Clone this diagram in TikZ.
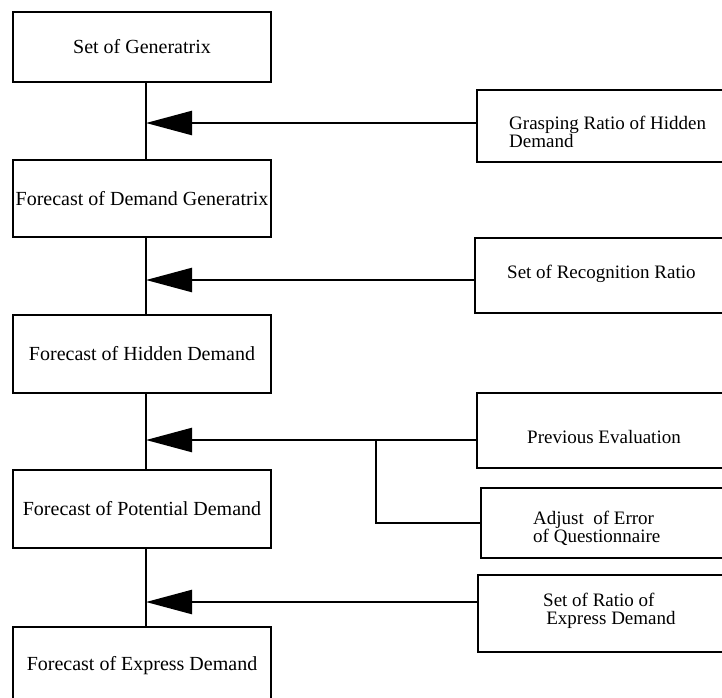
\documentclass[tikz,border=0pt]{standalone}
\usepackage{fontspec}
\setmainfont{Liberation Serif}
\usetikzlibrary{arrows.meta}
\begin{document}
\begin{tikzpicture}[x=1pt,y=-1pt,
  box/.style={draw, line width=2.8pt, rectangle, inner sep=0pt},
  leftbox/.style={box, minimum width=258pt, font=\fontsize{20}{22}\selectfont},
  rightbox/.style={box, minimum width=250pt},
  rtext/.style={anchor=west, align=left, inner sep=0pt, font=\fontsize{19}{18}\selectfont},
  link/.style={line width=2.4pt},
  feed/.style={link, -{Triangle[length=46pt,width=24pt]}}]
\useasboundingbox (0,0) rectangle (722,697);
\clip (0,0) rectangle (722,697);

% main chain of forecasts
\node[leftbox, minimum height=70pt] (gen)  at (142,47)    {Set of Generatrix};
\node[leftbox, minimum height=77pt] (dgen) at (142,198.5) {Forecast of Demand Generatrix};
\node[leftbox, minimum height=78pt] (hid)  at (142,354)   {Forecast of Hidden Demand};
\node[leftbox, minimum height=78pt] (pot)  at (142,509)   {Forecast of Potential Demand};
\node[leftbox, minimum height=78pt] (exp)  at (142,666)   {Forecast of Express Demand};

% inputs on the right
\node[rightbox, minimum height=72pt] (grasp) at (602,126)   {};
\node[rtext] (grasptxt) at (509,132) {Grasping Ratio of Hidden\\Demand};
\node[rightbox, minimum height=75pt] (recog) at (600,275.5) {};
\node[rtext] (recogtxt) at (507,274) {Set of Recognition Ratio};
\node[rightbox, minimum height=75pt] (prev)  at (602,430.5) {};
\node[rtext] (prevtxt) at (527,437) {Previous Evaluation};
\node[rightbox, minimum height=70pt] (adj)   at (606,523)   {};
\node[rtext] (adjtxt) at (533,528) {Adjust\ \ of Error\\of Questionnaire};
\node[rightbox, minimum height=77pt] (ratio) at (603,613.5) {};
\node[rtext] (ratiotxt) at (543,611) {Set of Ratio of\\\,Express Demand};

% junction points on the spine
\coordinate (t1) at (146,123);
\coordinate (t2) at (146,280);
\coordinate (t3) at (146,440);
\coordinate (t4) at (146,602);
\coordinate (j)  at (376,440);

% spine
\draw[link] (gen.south -| t1) -- (dgen.north -| t1);
\draw[link] (dgen.south -| t1) -- (hid.north -| t1);
\draw[link] (hid.south -| t1) -- (pot.north -| t1);
\draw[link] (pot.south -| t1) -- (exp.north -| t1);

% feeds into the spine
\draw[feed] (t1 -| grasp.west) -- (t1);
\draw[feed] (t2 -| recog.west) -- (t2);
\draw[feed] (t3 -| prev.west) -- (t3);
\draw[link] (adj.west) -| (j);
\draw[feed] (t4 -| ratio.west) -- (t4);
\end{tikzpicture}
\end{document}
